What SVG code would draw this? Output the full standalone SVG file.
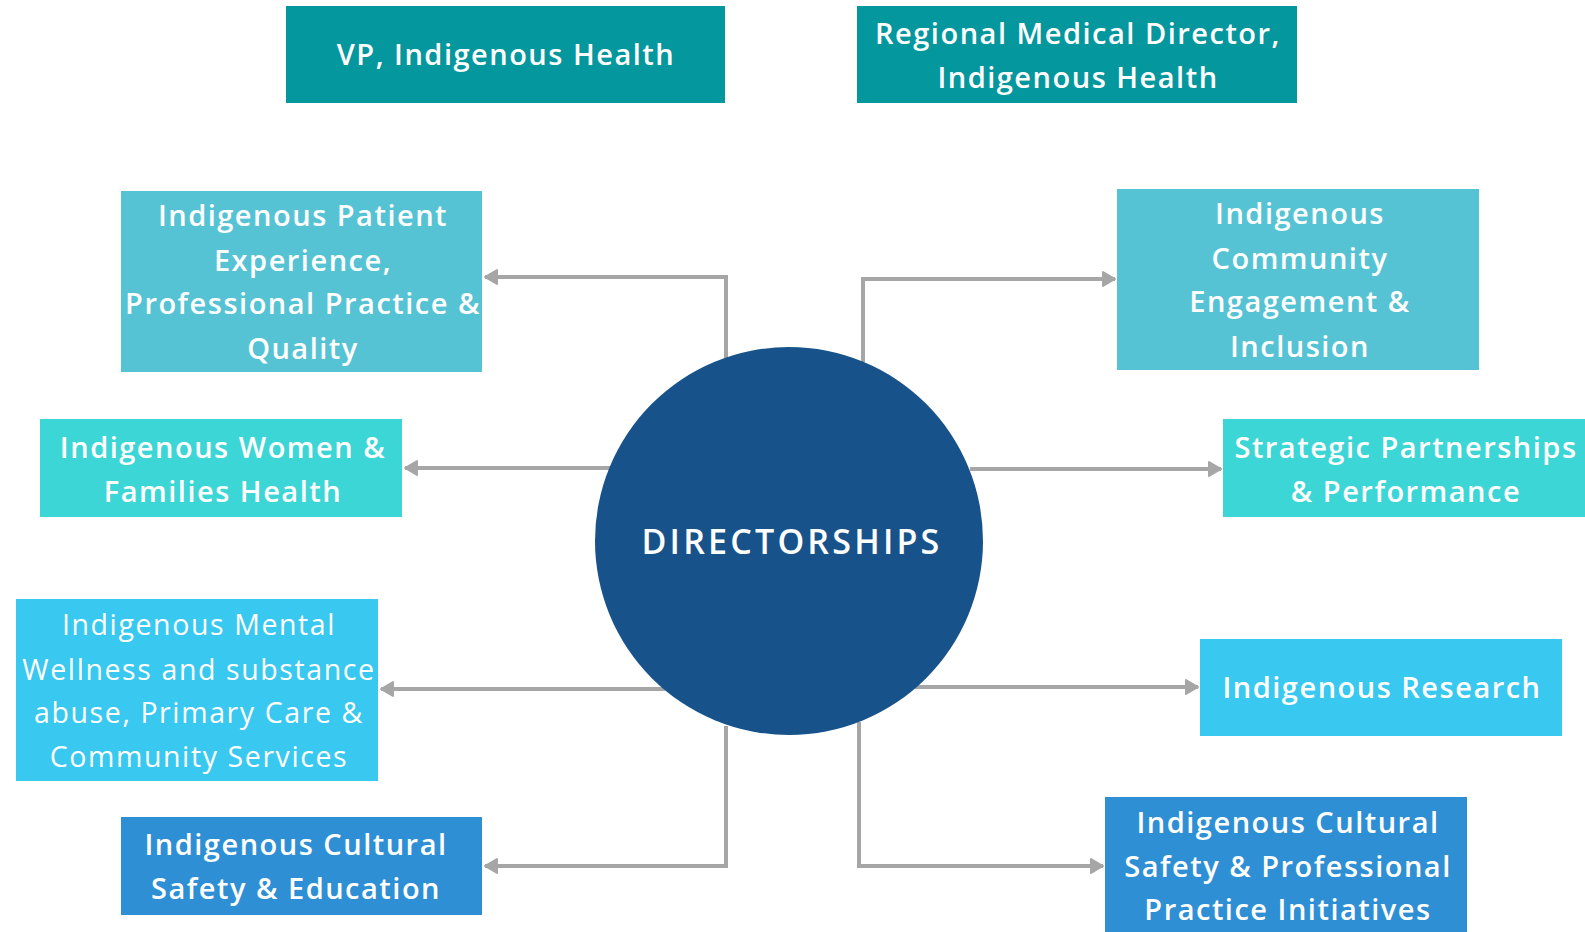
<svg xmlns="http://www.w3.org/2000/svg" width="1585" height="932" viewBox="0 0 1585 932">
<style>
.t{font-family:"Open Sans","Liberation Sans",sans-serif;font-weight:600;font-size:29px;fill:#ffffff;text-anchor:middle;letter-spacing:1.5px}
.l{font-weight:400;font-size:28.5px;letter-spacing:1.6px}
.c{fill:none;stroke:#a6a6a6;stroke-width:4}
</style>
<defs>
<marker id="ah" markerUnits="userSpaceOnUse" markerWidth="16" markerHeight="18" refX="14" refY="9" orient="auto">
<path d="M2,2 L14,9 L2,16 Z" fill="#a6a6a6" stroke="#a6a6a6" stroke-width="2" stroke-linejoin="round"/>
</marker>
</defs>
<rect width="1585" height="932" fill="#ffffff"/>
<g id="connectors">
<path class="c" d="M726,358 V277 H485" marker-end="url(#ah)"/>
<path class="c" d="M863,362 V279 H1115" marker-end="url(#ah)"/>
<path class="c" d="M610,468 H405" marker-end="url(#ah)"/>
<path class="c" d="M970,469 H1221" marker-end="url(#ah)"/>
<path class="c" d="M665,689 H381" marker-end="url(#ah)"/>
<path class="c" d="M915,687 H1198" marker-end="url(#ah)"/>
<path class="c" d="M726,726 V866 H485" marker-end="url(#ah)"/>
<path class="c" d="M859,722 V866 H1103" marker-end="url(#ah)"/>
</g>
<g id="vp">
<rect x="286" y="6" width="439" height="97" fill="#05979e"/>
<text class="t" x="506" y="65">VP, Indigenous Health</text>
</g>
<g id="rmd">
<rect x="857" y="6" width="440" height="97" fill="#05979e"/>
<text class="t" x="1078" y="44">Regional Medical Director,</text>
<text class="t" x="1078" y="88">Indigenous Health</text>
</g>
<g id="patient">
<rect x="121" y="191" width="361" height="181" fill="#56c3d4"/>
<text class="t" x="303" y="226">Indigenous Patient</text>
<text class="t" x="303" y="271">Experience,</text>
<text class="t" x="303" y="314">Professional Practice &amp;</text>
<text class="t" x="303" y="359">Quality</text>
</g>
<g id="community">
<rect x="1117" y="189" width="362" height="181" fill="#56c3d4"/>
<text class="t" x="1300" y="224">Indigenous</text>
<text class="t" x="1300" y="269">Community</text>
<text class="t" x="1300" y="312">Engagement &amp;</text>
<text class="t" x="1300" y="357">Inclusion</text>
</g>
<g id="women">
<rect x="40" y="419" width="362" height="98" fill="#3dd6d6"/>
<text class="t" x="223" y="458">Indigenous Women &amp;</text>
<text class="t" x="223" y="502">Families Health</text>
</g>
<g id="strategic">
<rect x="1223" y="419" width="362" height="98" fill="#3dd6d6"/>
<text class="t" x="1406" y="458">Strategic Partnerships</text>
<text class="t" x="1406" y="502">&amp; Performance</text>
</g>
<g id="mental">
<rect x="16" y="599" width="362" height="182" fill="#39c8ef"/>
<text class="t l" x="199" y="635">Indigenous Mental</text>
<text class="t l" x="199" y="680">Wellness and substance</text>
<text class="t l" x="199" y="723">abuse, Primary Care &amp;</text>
<text class="t l" x="199" y="767">Community Services</text>
</g>
<g id="research">
<rect x="1200" y="639" width="362" height="97" fill="#39c8ef"/>
<text class="t" x="1382" y="698">Indigenous Research</text>
</g>
<g id="cse">
<rect x="121" y="817" width="361" height="98" fill="#2e8fd4"/>
<text class="t" x="296" y="855">Indigenous Cultural</text>
<text class="t" x="296" y="899">Safety &amp; Education</text>
</g>
<g id="csp">
<rect x="1105" y="797" width="362" height="140" fill="#2e8fd4"/>
<text class="t" x="1288" y="833">Indigenous Cultural</text>
<text class="t" x="1288" y="877">Safety &amp; Professional</text>
<text class="t" x="1288" y="920">Practice Initiatives</text>
</g>
<g id="directorships">
<circle cx="789" cy="541" r="194" fill="#17538a"/>
<text class="t" x="792" y="554" style="font-size:34px;letter-spacing:3.2px">DIRECTORSHIPS</text>
</g>
</svg>
